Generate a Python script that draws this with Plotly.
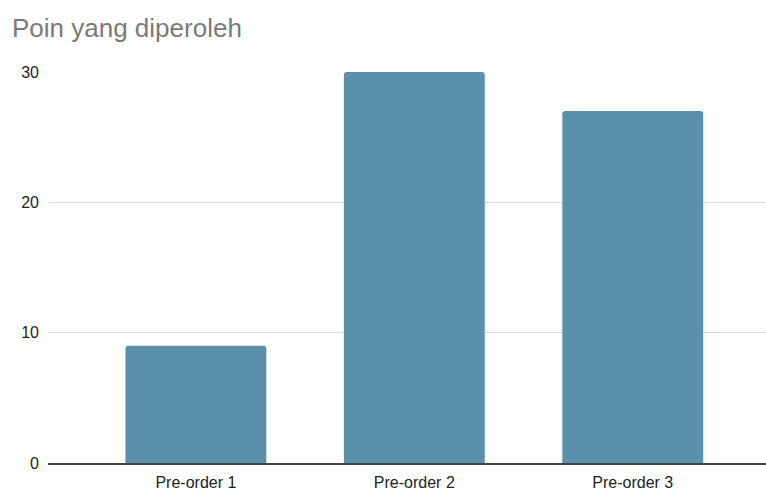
import plotly.graph_objects as go

categories = ["Pre-order 1", "Pre-order 2", "Pre-order 3"]
values = [9, 30, 27]
y_ticks = [0, 10, 20, 30]

fig = go.Figure(go.Bar(
    x=categories, y=values,
    marker=dict(color="#5b90ad", line=dict(width=0), cornerradius=3),
    width=0.645,
))

fig.update_layout(
    width=766, height=491,
    margin=dict(l=48, r=0, t=72, b=28, autoexpand=False),
    paper_bgcolor="white", plot_bgcolor="white",
    font=dict(family="Liberation Sans, Arial, sans-serif", size=16, color="#222222"),
    title=dict(text="Poin yang diperoleh", x=12/766, xanchor="left", xref="container",
               y=1 - 28/491, yanchor="middle", yref="container",
               font=dict(size=26, color="#7a7a7a")),
    showlegend=False,
    bargap=0.355,
)
fig.update_xaxes(
    range=[-0.677, 2.61], showgrid=False, showline=True, linecolor="#444444", linewidth=1.5,
    ticks="", ticklabelstandoff=4, tickfont=dict(size=16, color="#222222"),
)
fig.update_yaxes(
    range=[0, 30], tickvals=y_ticks, showgrid=True, gridcolor="#d9d9d9", gridwidth=1,
    zeroline=False, ticks="", ticklabelstandoff=8, tickfont=dict(size=16, color="#222222"),
)

fig.write_html("out.html")
